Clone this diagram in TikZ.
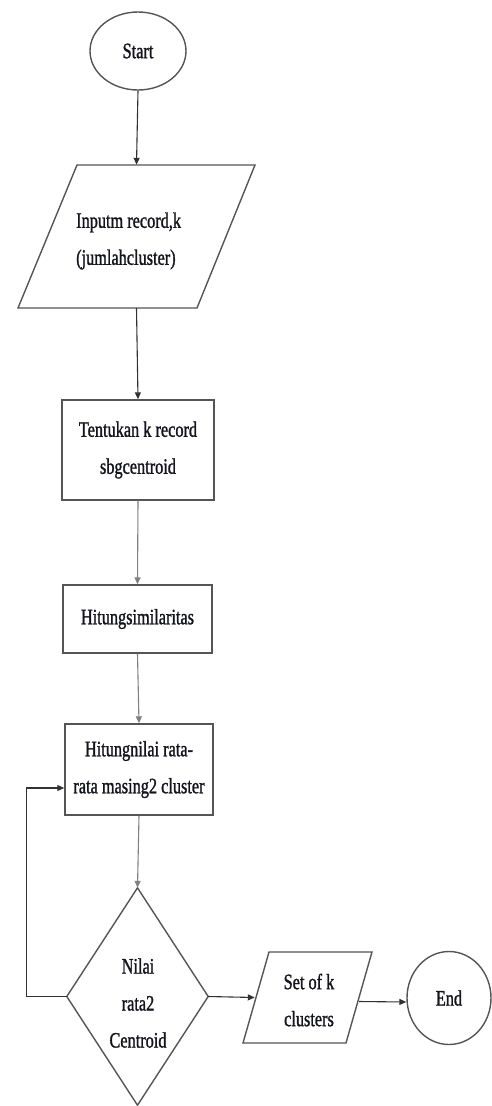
\documentclass[tikz,border=0pt]{standalone}
\usepackage{fontspec}
\usetikzlibrary{arrows.meta,shapes.geometric}
\newfontfamily\condfont[FakeStretch=0.74,FakeBold=1.2]{Liberation Serif}
\definecolor{edge}{RGB}{85,85,85}
\definecolor{conn}{RGB}{50,50,50}
\definecolor{txt}{RGB}{20,20,28}
\tikzset{
  shapeline/.style={draw=edge, line width=1.4pt},
  lbl/.style={font=\condfont\fontsize{22}{37}\selectfont, text=txt, align=center, inner sep=0pt},
  boxnode/.style={shapeline, rectangle, inner sep=0pt, font=\condfont\fontsize{22}{37}\selectfont, text=txt, align=center},
  termnode/.style={shapeline, ellipse, inner sep=0pt, font=\condfont\fontsize{22}{37}\selectfont, text=txt},
  hidden/.style={rectangle, draw=none, inner sep=0pt},
  flow/.style={draw=conn, line width=1.1pt, -{Triangle[length=7pt,width=6pt]}},
}
\begin{document}
\begin{tikzpicture}[x=1pt,y=-1pt]
\useasboundingbox (0,0) rectangle (491,1106);
% Start
\node[termnode, minimum width=96pt, minimum height=78pt] (start) at (138,51) {Start};
% input parallelogram
\node[hidden, minimum width=237pt, minimum height=143pt] (inp) at (136.5,236.5) {};
\draw[shapeline] (77,165) -- (255,165) -- (197,308) -- (18,308) -- cycle;
\node[lbl, align=left, anchor=west] (inptext) at (76,241) {Inputm record,k\\(jumlahcluster)};
% rectangles
\node[boxnode, minimum width=152pt, minimum height=100pt] (r1) at (138,450) {Tentukan k record\\sbgcentroid};
\node[boxnode, minimum width=149pt, minimum height=68pt] (r2) at (137.5,619) {Hitungsimilaritas};
\node[boxnode, minimum width=148pt, minimum height=91pt] (r3) at (139,769.5) {Hitungnilai rata-\\rata masing2 cluster};
% diamond
\node[hidden, minimum width=141pt, minimum height=217pt] (dia) at (137.5,996.5) {};
\draw[shapeline] (dia.north) -- (dia.east) -- (dia.south) -- (dia.west) -- cycle;
\node[lbl] (diatext) at (138,1003) {Nilai\\rata2\\Centroid};
% output parallelogram
\node[hidden, minimum width=129pt, minimum height=91pt] (out) at (307.5,997.5) {};
\draw[shapeline] (269,952) -- (372,952) -- (346,1043) -- (243,1043) -- cycle;
\node[lbl] (outtext) at (309,1000) {Set of k\\clusters};
% End
\node[termnode, minimum width=84pt, minimum height=93pt] (end) at (449,998) {End};
% connectors
\draw[flow] (start.south) -- (inp.north);
\draw[flow] (inp.south) -- (r1.north);
\draw[flow, draw=gray] (r1.south) -- (r2.north);
\draw[flow, draw=gray] (r2.south) -- (r3.north);
\draw[flow, draw=gray] (r3.south) -- (dia.north);
\draw[flow] (dia.west) -- ++(-40,0) |- ([yshift=-18.5pt]r3.west);
\draw[flow] (dia.east) -- ([xshift=12pt]out.west);
\draw[flow] ([xshift=-13pt,yshift=-4pt]out.east) -- ([yshift=-4pt]end.west);
\end{tikzpicture}
\end{document}
